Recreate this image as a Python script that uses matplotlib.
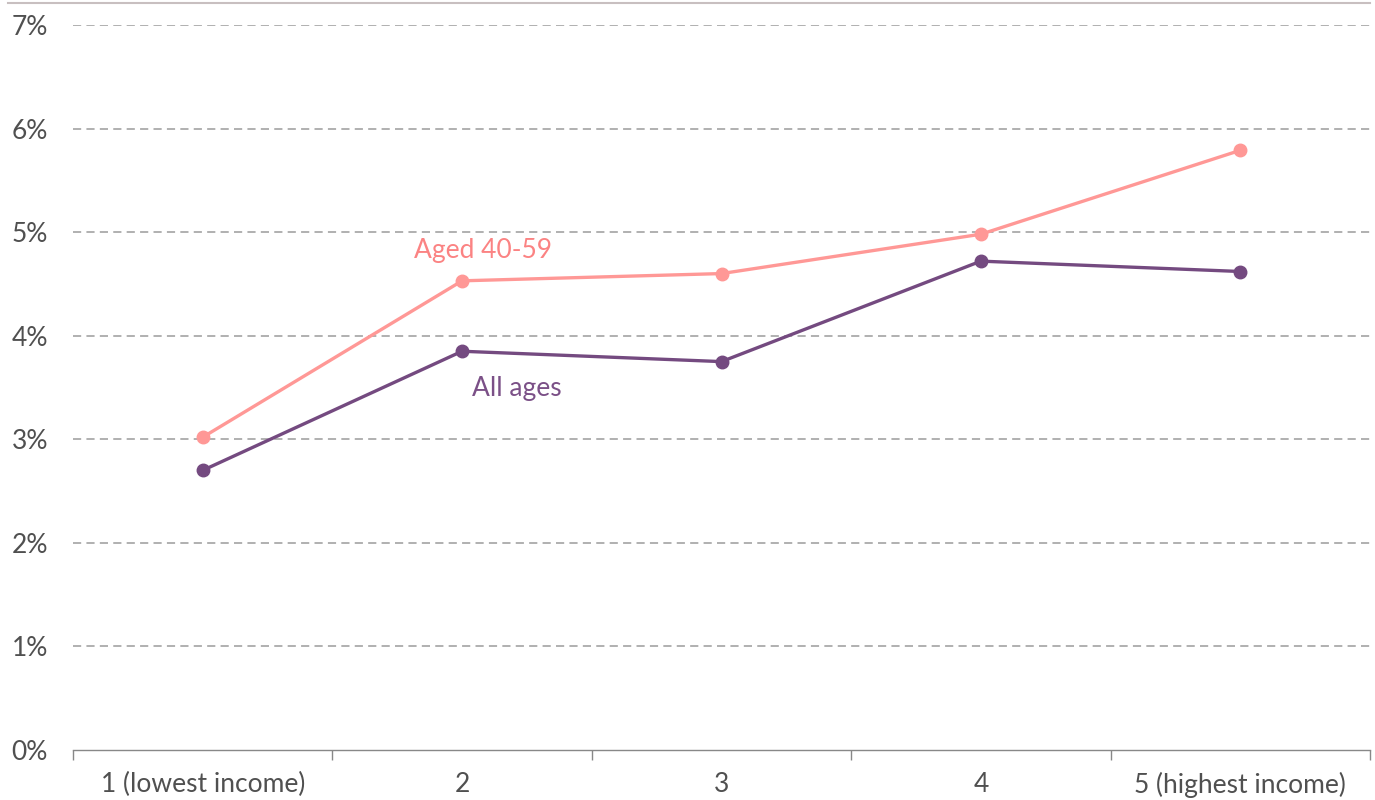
import matplotlib
matplotlib.use("Agg")
import matplotlib.pyplot as plt
from matplotlib.lines import Line2D

categories = ["1 (lowest income)", "2", "3", "4", "5 (highest income)"]
aged_40_59 = [3.02, 4.53, 4.60, 4.98, 5.79]
all_ages = [2.70, 3.85, 3.75, 4.72, 4.62]
y_ticks = [0, 1, 2, 3, 4, 5, 6, 7]
y_tick_labels = [f"{v}%" for v in y_ticks]

plt.rcParams['font.family'] = ['Lato', 'DejaVu Sans']

PINK = "#ff9896"
PURPLE = "#744a80"

fig = plt.figure(figsize=(13.75, 8), dpi=100)
ax = fig.add_axes([73/1375, 1-750/800, (1370-73)/1375, (750-25)/800])

x = list(range(len(categories)))
ax.plot(x, aged_40_59, color=PINK, lw=2.4, marker='o', ms=9, zorder=3)
ax.plot(x, all_ages, color=PURPLE, lw=2.4, marker='o', ms=9, zorder=3)

ax.set_xlim(-0.5, len(categories) - 0.5)
ax.set_ylim(0, 7)
ax.set_yticks(y_ticks)
ax.set_yticklabels(y_tick_labels)
for v in y_ticks[1:]:
    ax.axhline(v, color="#b0b0b0", lw=1.4, dashes=(4.2, 2.7), zorder=1)

ax.set_xticks(x)
ax.set_xticklabels(categories)
ax.set_xticks([i - 0.5 for i in range(len(categories) + 1)], minor=True)
ax.tick_params(axis='x', which='major', length=0, pad=16, labelsize=19, labelcolor="#505050")
ax.tick_params(axis='x', which='minor', length=7, width=1, color="#888888")
ax.tick_params(axis='y', length=0, pad=18, labelsize=19, labelcolor="#505050")

for s in ['top', 'right', 'left']:
    ax.spines[s].set_visible(False)
ax.spines['bottom'].set_color("#888888")
ax.spines['bottom'].set_linewidth(1)

ax.text(1.08, 4.82, "Aged 40-59", color="#fb8383", fontsize=19, ha='center', va='center')
ax.text(1.21, 3.49, "All ages", color="#7b5087", fontsize=19, ha='center', va='center')

fig.add_artist(Line2D([8/1375, 1370/1375], [1-3/800, 1-3/800], color="#c8bfc0", lw=1.5, transform=fig.transFigure))

fig.savefig("out.png", dpi=100)
